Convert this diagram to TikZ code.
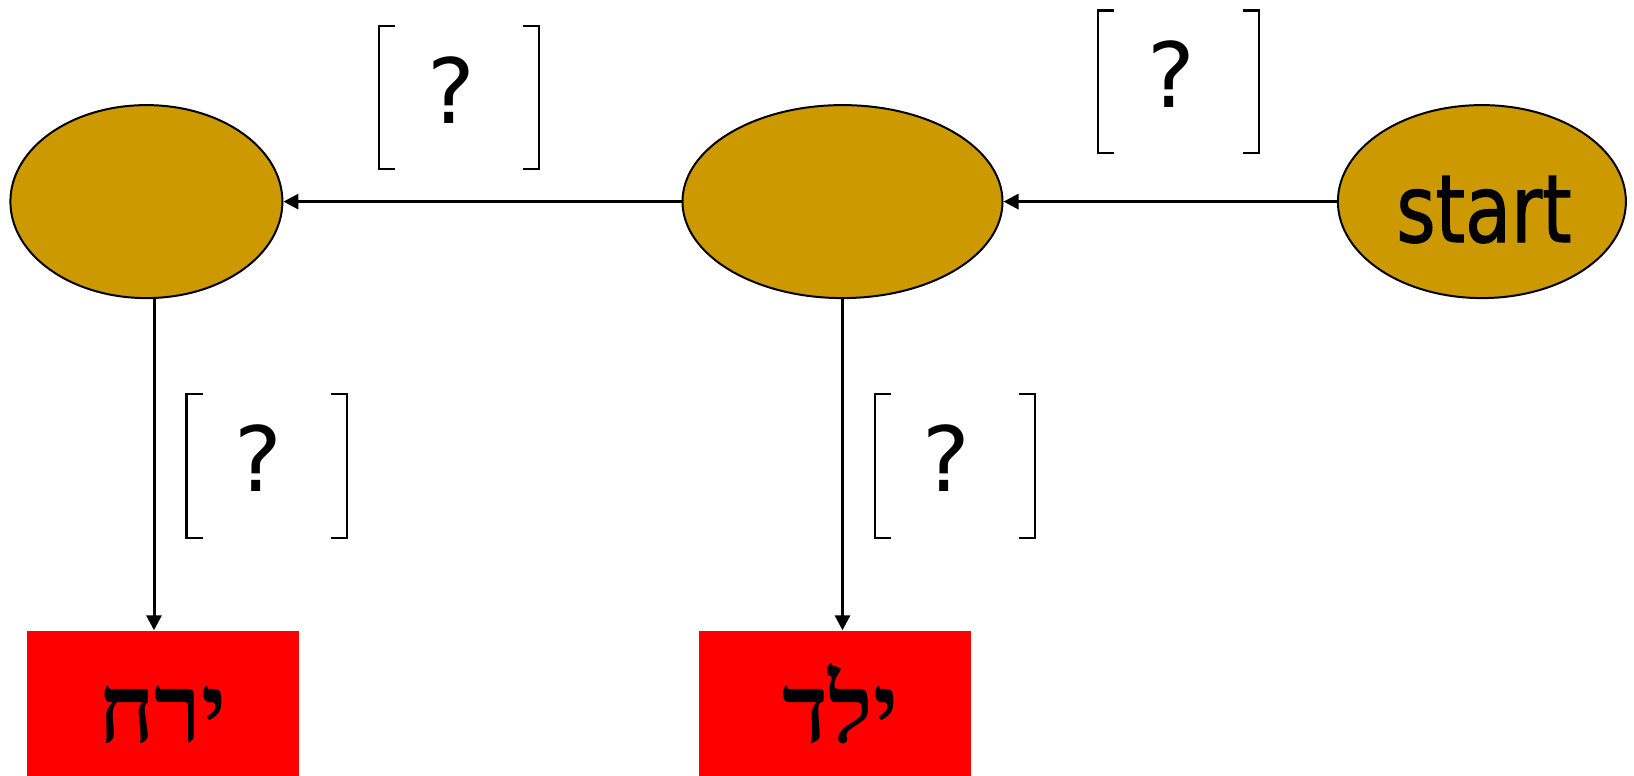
\documentclass[tikz,border=0pt]{standalone}
\usepackage{fontspec}
\usetikzlibrary{shapes.geometric,arrows.meta,calc}
\TeXXeTstate=1
\newfontfamily\hebfont[Script=Hebrew]{Liberation Serif}
\newfontfamily\tahfont[FakeStretch=0.80,FakeBold=1.2]{DejaVu Sans}
\newfontfamily\qfont{DejaVu Sans}
\definecolor{ochre}{HTML}{CC9900}
\definecolor{boxred}{HTML}{FF0000}
\tikzset{
  state/.style={ellipse, draw=black, line width=2pt, fill=ochre, inner sep=0pt},
  word/.style={rectangle, fill=boxred, draw=none, minimum width=272pt, minimum height=145.5pt, inner sep=0pt},
  hebtext/.style={font=\hebfont\bfseries\fontsize{96}{96}\selectfont, inner sep=0pt},
  qmark/.style={font=\qfont\fontsize{90}{90}\selectfont, inner sep=0pt},
  arr/.style={line width=3pt, -{Triangle[length=15pt,width=15pt]}},
  brk/.style={line width=2.6pt}
}
\newcommand{\qbracket}[4]{%
  \draw[brk] (#1+16,#2) -- (#1,#2) -- (#1,#4) -- (#1+16,#4);
  \draw[brk] (#3-16,#2) -- (#3,#2) -- (#3,#4) -- (#3-16,#4);}
\begin{document}
\begin{tikzpicture}[x=1pt,y=-1pt]
\useasboundingbox (0,0) rectangle (1634,776);
\node[state, minimum width=272pt, minimum height=193pt] (L) at (146.4,201.6) {};
\node[state, minimum width=320pt, minimum height=193pt] (M) at (842.5,201.6) {};
\node[state, minimum width=288pt, minimum height=193pt] (S) at (1481.9,201.6) {};
\node[font=\tahfont\fontsize{94}{94}\selectfont, inner sep=0pt, anchor=base] (st) at (1484,242) {start};
\node[word] (yarah) at (163,703.25) {};
\node[word] (yeled) at (835,703.25) {};
\node[hebtext, anchor=base] (t1) at (162.6,742) {\beginR ירח\endR};
\node[hebtext, anchor=base] (t2) at (840.5,742) {\beginR ילד\endR};
\draw[arr] (S.west) -- (M.east);
\draw[arr] (M.west) -- (L.east);
\draw[arr] ([xshift=7.6pt]L.south) -- ([xshift=7.6pt]L.south |- yarah.north);
\draw[arr] (M.south) -- (M.south |- yeled.north);
\qbracket{379}{26}{539}{169}
\qbracket{1098}{10.5}{1259}{153}
\qbracket{186.5}{394}{347}{538}
\qbracket{875}{394}{1035}{538}
\node[qmark] (q1) at (451.8,90.1) {?};
\node[qmark] (q2) at (1171.3,74.5) {?};
\node[qmark] (q3) at (258.4,458) {?};
\node[qmark] (q4) at (946.2,458) {?};
\end{tikzpicture}
\end{document}
